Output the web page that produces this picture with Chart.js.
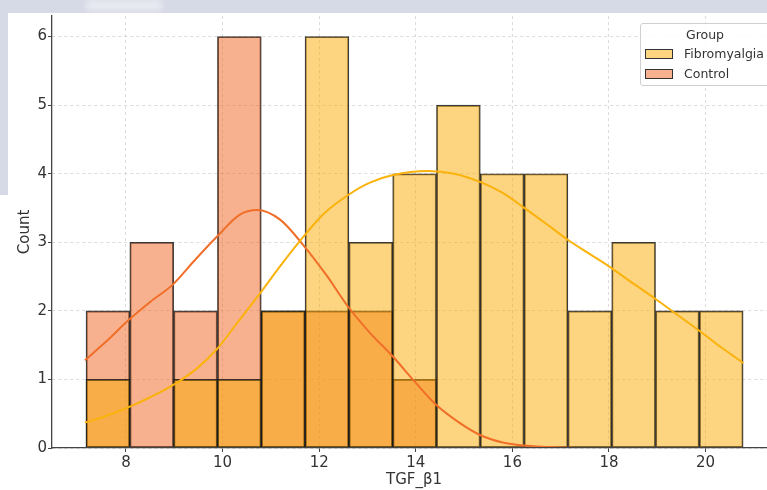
<!DOCTYPE html>
<html>
<head>
<meta charset="utf-8">
<script src="https://cdn.jsdelivr.net/npm/chart.js@4.4.1/dist/chart.umd.min.js"></script>
<style>
    html, body { margin: 0; padding: 0; background: #fff; overflow: hidden; }
    #wrap { position: relative; width: 767px; height: 490px; overflow: hidden; font-family: 'DejaVu Sans', sans-serif; }
    #chart { position: absolute; left: 0; top: 0; }
    .band-top { position: absolute; left: 0; top: 0; width: 767px; height: 13px; background: #d6d9e6; }
    .band-left { position: absolute; left: 0; top: 0; width: 8px; height: 195px; background: #d6d9e6; }
    .blur { position: absolute; left: 86px; top: 0; width: 76px; height: 11px; background: rgba(255,255,255,0.45); filter: blur(3px); }
    .legend { position: absolute; left: 640px; top: 23px; width: 128px; height: 61px; border: 1px solid #d0d0d0; border-radius: 3px; background: rgba(255,255,255,0.85); color: #333; font-size: 12.5px; }
    .legend .title { position: absolute; left: 0; width: 128px; top: 3px; text-align: center; }
    .legend .item { position: absolute; left: 4px; height: 16px; line-height: 16px; white-space: nowrap; }
    .legend .sw { display: inline-block; width: 26px; height: 8px; border: 1px solid #333; vertical-align: middle; margin-right: 11px; position: relative; top: -1px; }
</style>
</head>
<body>
<div id="wrap">
    <canvas id="chart" width="776" height="490"></canvas>
    <div class="band-top"></div>
    <div class="band-left"></div>
    <div class="blur"></div>
    <div class="legend" id="legend">
        <div class="title">Group</div>
    </div>
</div>
<script>
// histogram bins (TGF_β1), 15 bins
const binCenters = [7.626, 8.533, 9.440, 10.347, 11.254, 12.161, 13.068, 13.975, 14.882, 15.789, 16.696, 17.603, 18.510, 19.417, 20.324];
const fibroCounts = [1, 0, 1, 1, 2, 6, 3, 4, 5, 4, 4, 2, 3, 2, 2];
const controlCounts = [2, 3, 2, 6, 2, 2, 2, 1, 0, 0, 0, 0, 0, 0, 0];

// kde curves
const fibroKdeX = [7.15, 7.6, 8.07, 8.5, 8.98, 9.45, 9.88, 10.3, 10.77, 11.2, 11.67, 12.1, 12.6, 13.05, 13.53, 14.23, 14.8, 15.33, 15.8, 16.23, 16.7, 17.16, 17.6, 18.06, 18.5, 18.95, 19.4, 19.85, 20.3, 20.78];
const fibroKdeY = [0.37, 0.47, 0.60, 0.74, 0.92, 1.15, 1.44, 1.82, 2.25, 2.66, 3.08, 3.42, 3.69, 3.87, 3.98, 4.04, 4.00, 3.88, 3.72, 3.51, 3.27, 3.03, 2.83, 2.62, 2.40, 2.18, 1.95, 1.72, 1.48, 1.24];
const controlKdeX = [7.15, 7.6, 8.06, 8.5, 8.98, 9.4, 9.88, 10.35, 10.71, 11.19, 11.67, 12.15, 12.6, 13.05, 13.53, 13.95, 14.42, 14.9, 15.33, 15.8, 16.23, 16.7, 17.12, 17.6];
const controlKdeY = [1.28, 1.56, 1.87, 2.13, 2.39, 2.72, 3.08, 3.40, 3.47, 3.33, 2.96, 2.52, 2.06, 1.68, 1.33, 0.99, 0.63, 0.37, 0.19, 0.08, 0.035, 0.015, 0.005, 0.0];

const groups = ['Fibromyalgia', 'Control'];
const xTicks = [8, 10, 12, 14, 16, 18, 20];
const yTicks = [0, 1, 2, 3, 4, 5, 6];

const fibroFill = 'rgba(251, 169, 1, 0.5)';
const controlFill = 'rgba(239, 99, 31, 0.5)';
const fibroLine = 'rgb(251, 178, 10)';
const controlLine = 'rgb(240, 110, 40)';
const edge = 'rgba(25, 25, 25, 0.85)';
const fontFamily = "'DejaVu Sans', sans-serif";
const textColor = '#333333';

function toBars(counts) {
    return counts.map((v, i) => ({ x: binCenters[i], y: v > 0 ? v : null }));
}
function toLine(xs, ys) {
    return xs.map((x, i) => ({ x: x, y: ys[i] }));
}

// legend entries (html)
const legendEl = document.getElementById('legend');
[fibroFill, controlFill].forEach((fill, i) => {
    const item = document.createElement('div');
    item.className = 'item';
    item.style.top = (i === 0 ? 22 : 42) + 'px';
    item.innerHTML = `<span class="sw" style="background:${fill}"></span>${groups[i]}`;
    legendEl.appendChild(item);
});

const ctx = document.getElementById('chart');
new Chart(ctx, {
    type: 'bar',
    data: {
        datasets: [
            {
                type: 'line',
                label: groups[0] + ' kde',
                data: toLine(fibroKdeX, fibroKdeY),
                borderColor: fibroLine,
                borderWidth: 2,
                pointRadius: 0,
                cubicInterpolationMode: 'monotone',
                fill: false,
                order: 0
            },
            {
                type: 'line',
                label: groups[1] + ' kde',
                data: toLine(controlKdeX, controlKdeY),
                borderColor: controlLine,
                borderWidth: 2,
                pointRadius: 0,
                cubicInterpolationMode: 'monotone',
                fill: false,
                order: 1
            },
            {
                label: groups[0],
                data: toBars(fibroCounts),
                backgroundColor: fibroFill,
                borderColor: edge,
                borderWidth: 1.2,
                borderSkipped: false,
                grouped: false,
                barPercentage: 1,
                categoryPercentage: 1,
                order: 2
            },
            {
                label: groups[1],
                data: toBars(controlCounts),
                backgroundColor: controlFill,
                borderColor: edge,
                borderWidth: 1.2,
                borderSkipped: false,
                grouped: false,
                barPercentage: 1,
                categoryPercentage: 1,
                order: 3
            }
        ]
    },
    options: {
        responsive: false,
        devicePixelRatio: 1,
        animation: false,
        layout: {
            padding: { left: 12.6, top: 16, right: 0, bottom: 0 }
        },
        plugins: {
            legend: { display: false },
            tooltip: { enabled: false }
        },
        scales: {
            x: {
                type: 'linear',
                min: 6.468,
                max: 21.458,
                offset: false,
                afterBuildTicks: function(scale) {
                    scale.ticks = xTicks.map(v => ({ value: v }));
                },
                afterFit: function(scale) {
                    scale.height = 42;
                },
                ticks: {
                    color: textColor,
                    padding: 2,
                    maxRotation: 0,
                    font: { family: fontFamily, size: 15 }
                },
                grid: {
                    offset: false,
                    color: 'rgba(200, 200, 200, 0.8)',
                    lineWidth: 0.8,
                    tickLength: 4,
                    tickColor: '#444',
                    tickWidth: 1
                },
                border: {
                    display: true,
                    color: '#444',
                    width: 1.3,
                    dash: [3, 3],
                    z: 1
                },
                title: {
                    display: true,
                    text: 'TGF_β1',
                    color: textColor,
                    padding: { top: 0, bottom: 1 },
                    font: { family: fontFamily, size: 15 }
                }
            },
            y: {
                min: 0,
                max: 6.3,
                afterBuildTicks: function(scale) {
                    scale.ticks = yTicks.map(v => ({ value: v }));
                },
                afterFit: function(scale) {
                    scale.width = 39.4;
                },
                ticks: {
                    color: textColor,
                    padding: 1,
                    font: { family: fontFamily, size: 15 }
                },
                grid: {
                    color: 'rgba(200, 200, 200, 0.8)',
                    lineWidth: 0.8,
                    tickLength: 4,
                    tickColor: '#444',
                    tickWidth: 1
                },
                border: {
                    display: true,
                    color: '#444',
                    width: 1.3,
                    dash: [3, 3],
                    z: 1
                },
                title: {
                    display: true,
                    text: 'Count',
                    color: textColor,
                    padding: { top: 4, bottom: 4 },
                    font: { family: fontFamily, size: 15 }
                }
            }
        }
    }
});
</script>
</body>
</html>
